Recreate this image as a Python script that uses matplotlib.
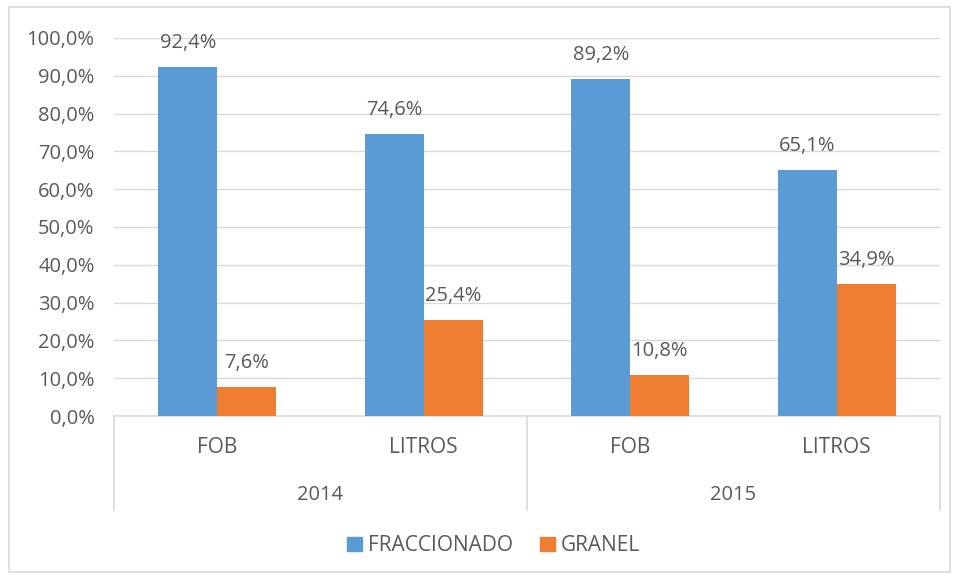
import numpy as np
import matplotlib
matplotlib.use('Agg')
import matplotlib.pyplot as plt
from matplotlib.patches import Rectangle, Patch

# datos
years = ['2014', '2015']
cats = ['FOB', 'LITROS', 'FOB', 'LITROS']
fraccionado = [92.4, 74.6, 89.2, 65.1]
granel = [7.6, 25.4, 10.8, 34.9]
lab_frac = ['92,4%', '74,6%', '89,2%', '65,1%']
lab_gran = ['7,6%', '25,4%', '10,8%', '34,9%']

blue = '#5B9BD5'
orange = '#ED7D31'
txt = '#595959'
grid = '#D9D9D9'

plt.rcParams['font.family'] = ['Open Sans', 'DejaVu Sans']

fig = plt.figure(figsize=(9.59, 5.79), dpi=100)
ax = fig.add_axes([0.1189, 0.2815, 0.8613, 0.653])

x = np.arange(len(cats))
w = 0.286
b1 = ax.bar(x - w / 2, fraccionado, w, color=blue, zorder=3)
b2 = ax.bar(x + w / 2, granel, w, color=orange, zorder=3)

for rect, lab in zip(b1, lab_frac):
    ax.annotate(lab, (rect.get_x() + rect.get_width() / 2, rect.get_height()),
                xytext=(0, 24), textcoords='offset pixels', ha='center', va='center',
                fontsize=14.5, color=txt)
for rect, lab in zip(b2, lab_gran):
    ax.annotate(lab, (rect.get_x() + rect.get_width() / 2, rect.get_height()),
                xytext=(0, 24), textcoords='offset pixels', ha='center', va='center',
                fontsize=14.5, color=txt)

ax.set_xlim(-0.5, 3.5)
ax.set_ylim(0, 100)
ax.set_yticks(np.arange(0, 101, 10))
ax.set_yticklabels([f'{v},0%' for v in range(0, 101, 10)], fontsize=14.5, color=txt)
ax.tick_params(axis='y', length=0, pad=14)
ax.set_xticks([])
ax.grid(axis='y', color=grid, linewidth=1, zorder=0)
for s in ['top', 'right', 'left']:
    ax.spines[s].set_visible(False)
ax.spines['bottom'].set_color(grid)
ax.spines['bottom'].set_linewidth(1.2)

# eje de categorias en dos niveles
tr = ax.get_xaxis_transform()
for xv in [-0.5, 1.5, 3.5]:
    ax.plot([xv, xv], [0, -0.249], transform=tr, color=grid, lw=1.2, clip_on=False)
for xi, c in zip(x, cats):
    ax.text(xi, -0.082, c, transform=tr, ha='center', va='center', fontsize=15, color=txt)
for i, y in enumerate(years):
    ax.text(0.5 + 2 * i, -0.209, y, transform=tr, ha='center', va='center', fontsize=14.5, color=txt)

handles = [Patch(color=blue, label='FRACCIONADO'), Patch(color=orange, label='GRANEL')]
fig.legend(handles=handles, loc='center', bbox_to_anchor=(0.515, 0.057), ncol=2, frameon=False,
           fontsize=15, labelcolor=txt, handlelength=0.7, handleheight=0.7,
           handletextpad=0.3, columnspacing=1.3)

fig.patches.append(Rectangle((0.009, 0.012), 0.982, 0.976, transform=fig.transFigure,
                             fill=False, edgecolor=grid, lw=1.2))

fig.savefig('out.png', dpi=100)
